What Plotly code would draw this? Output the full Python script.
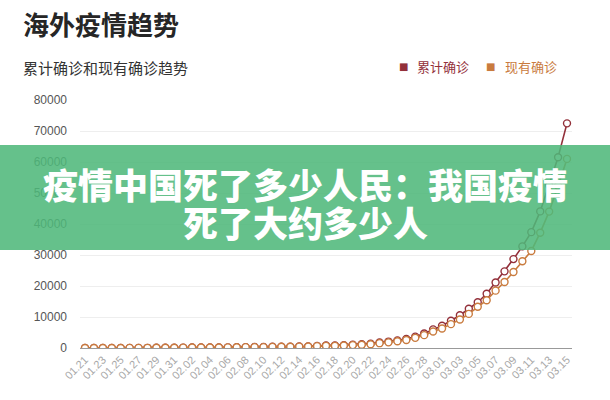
import plotly.graph_objects as go

dates = (["01.%02d" % d for d in range(21, 32)] +
         ["02.%02d" % d for d in range(1, 30)] +
         ["03.%02d" % d for d in range(1, 16)])

cumulative = [5, 7, 10, 13, 20, 33, 45, 56, 68, 82, 106,
              132, 146, 153, 159, 191, 216, 270, 288, 307, 319,
              395, 441, 447, 505, 526, 683, 794, 804, 924, 1076,
              1200, 1402, 1769, 2069, 2459, 2918, 3664, 4691, 6009,
              7169, 8774, 10566, 12668, 14768, 17481, 21110, 24727,
              28674, 32778, 37371, 44067, 52500, 61518, 72469]

current = [5, 7, 10, 13, 20, 33, 45, 55, 66, 79, 102,
           127, 140, 146, 150, 180, 203, 254, 268, 283, 290,
           360, 400, 400, 450, 465, 610, 700, 700, 800, 930,
           1040, 1220, 1560, 1830, 2180, 2600, 3280, 4150, 5300,
           6300, 7700, 9200, 11000, 13300, 15400, 18500, 21300,
           24500, 28000, 31300, 37200, 44000, 52300, 61000]

y_ticks = [0, 10000, 20000, 30000, 40000, 50000, 60000, 70000, 80000]
x_ticks = dates[::2]

title = "海外疫情趋势"
subtitle = "累计确诊和现有确诊趋势"
series_names = ["累计确诊", "现有确诊"]
banner_lines = ["疫情中国死了多少人民：我国疫情", "死了大约多少人"]

RED = "#93303a"
ORANGE = "#c97b3e"
CJK = "Noto Sans CJK SC"
W, H = 610, 400

fig = go.Figure()
for name, vals, col in [(series_names[0], cumulative, RED), (series_names[1], current, ORANGE)]:
    fig.add_trace(go.Scatter(
        x=dates, y=vals, name=name, mode="lines+markers",
        line=dict(color=col, width=1.6),
        marker=dict(symbol="circle", size=7, color="white",
                    line=dict(color=col, width=1.4)),
        showlegend=False))

fig.update_layout(
    width=W, height=H, margin=dict(l=0, r=0, t=0, b=0, autoexpand=False),
    paper_bgcolor="white", plot_bgcolor="white",
    font=dict(family=CJK, color="#555"),
    xaxis=dict(domain=[80 / W, 572 / W], type="category", automargin=False,
               range=[-0.56, len(dates) - 1 + 0.56],
               tickmode="array", tickvals=x_ticks, ticktext=x_ticks,
               tickangle=-45, tickfont=dict(size=11, color="#a8a8a8", family="Liberation Sans"),
               showline=True, linecolor="#999", linewidth=1,
               showgrid=False, ticks="", zeroline=False),
    yaxis=dict(domain=[(H - 348) / H, (H - 100) / H], range=[0, 80000], automargin=False,
               tickmode="array", tickvals=y_ticks,
               ticktext=[str(v) for v in y_ticks],
               tickfont=dict(size=12, color="#555", family="Liberation Sans"),
               showgrid=True, gridcolor="#eeeeee", gridwidth=1,
               zeroline=False, showline=False, ticks="", ticklabelstandoff=12),
)

def px(x, y):
    return x / W, 1 - y / H

anns = []
x0, y0 = px(21, 23)
anns.append(dict(text=title, x=x0, y=y0, xref="paper", yref="paper",
                 xanchor="left", yanchor="middle", showarrow=False,
                 font=dict(size=26, color="#262626", family=CJK, weight=600)))
x0, y0 = px(21, 67)
anns.append(dict(text=subtitle, x=x0, y=y0, xref="paper", yref="paper",
                 xanchor="left", yanchor="middle", showarrow=False,
                 font=dict(size=15, color="#333", family=CJK)))
for (sx, tx), name, col in [((403, 415), series_names[0], RED), ((490, 503), series_names[1], ORANGE)]:
    a, b = px(sx, 66)
    anns.append(dict(text="■", x=a, y=b, xref="paper", yref="paper",
                     xanchor="center", yanchor="middle", showarrow=False,
                     font=dict(size=10, color=col, family="DejaVu Sans")))
    a, b = px(tx, 66)
    anns.append(dict(text=name, x=a, y=b, xref="paper", yref="paper",
                     xanchor="left", yanchor="middle", showarrow=False,
                     font=dict(size=13, color=col, family=CJK)))

for line, yc in zip(banner_lines, [183, 221]):
    a, b = px(W / 2, yc)
    anns.append(dict(text=line, x=a, y=b, xref="paper", yref="paper",
                     xanchor="center", yanchor="middle", showarrow=False,
                     font=dict(size=35, color="white", family=CJK, weight=900)))

fig.update_layout(annotations=anns)
fig.add_shape(type="rect", xref="paper", yref="paper",
              x0=0, x1=1, y0=(H - 250) / H, y1=(H - 145) / H,
              fillcolor="rgba(78,184,122,0.87)", line=dict(width=0), layer="above")

fig.write_html("out.html", config={"displayModeBar": False},
               post_script="document.body.style.margin='0';document.body.style.overflow='hidden';")
